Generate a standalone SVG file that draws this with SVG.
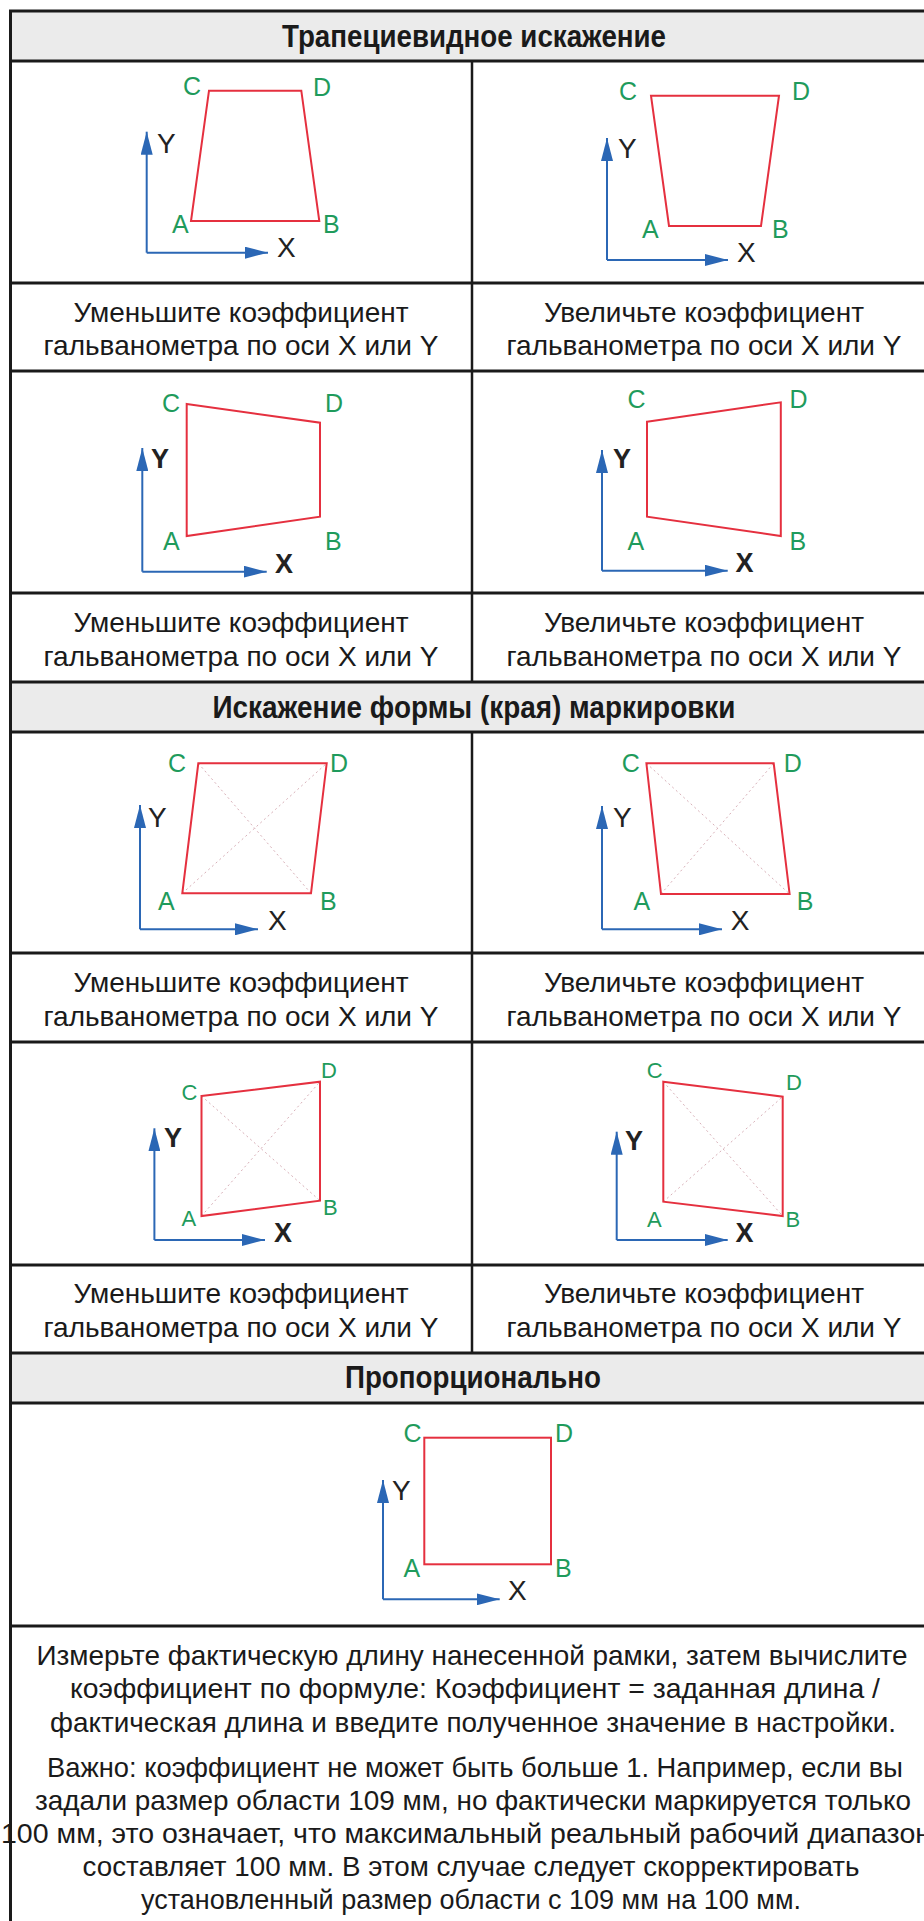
<svg xmlns="http://www.w3.org/2000/svg" width="924" height="1921" viewBox="0 0 924 1921">
<style>
.bd{stroke:#1a1a1a;stroke-width:3;fill:none}
.vd{stroke:#1a1a1a;stroke-width:2.5;fill:none}
.hdr{fill:#ebebeb}
.t{font-family:"Liberation Sans",Arial,sans-serif;font-size:28px;fill:#1a1a1a;text-anchor:middle}
.hb{font-weight:bold;font-size:31px}
.ax{stroke:#2b67b5;stroke-width:2;fill:none;marker-end:url(#arr)}
.q{stroke:#e5303f;stroke-width:2;fill:none;stroke-linejoin:miter}
.dg{stroke:#d8b0b8;stroke-width:1;stroke-dasharray:2 3;fill:none}
.lb{font-family:"Liberation Sans",Arial,sans-serif;font-size:25px;fill:#1f9b5c}
.lbs{font-size:22px}
.al{font-family:"Liberation Sans",Arial,sans-serif;font-size:28px;fill:#222}
.alb{font-weight:bold;font-size:27px}
</style>
<defs>
<marker id="arr" markerUnits="userSpaceOnUse" markerWidth="24" markerHeight="12" refX="23" refY="6" orient="auto">
<path d="M0,0 L23,6 L0,12 Z" fill="#2b67b5"/>
</marker>
</defs>
<rect x="0" y="0" width="924" height="1921" fill="#ffffff"/>

<g id="headers">
<rect class="hdr" x="10" y="11" width="930" height="50"/>
<rect class="hdr" x="10" y="682" width="930" height="50"/>
<rect class="hdr" x="10" y="1353" width="930" height="50"/>
<text class="t hb" x="474" y="47" textLength="384" lengthAdjust="spacingAndGlyphs">Трапециевидное искажение</text>
<text class="t hb" x="474" y="718" textLength="523" lengthAdjust="spacingAndGlyphs">Искажение формы (края) маркировки</text>
<text class="t hb" x="473" y="1388" textLength="256" lengthAdjust="spacingAndGlyphs">Пропорционально</text>
</g>

<g id="grid">
<rect class="bd" x="10.5" y="11" width="927" height="1920"/>
<path class="bd" d="M10 61H940M10 283H940M10 371H940M10 593H940M10 682H940M10 732H940M10 953H940M10 1042H940M10 1265H940M10 1353H940M10 1403H940M10 1626H940"/>
<path class="vd" d="M472 61V682M472 732V1353"/>
</g>

<g id="captions">
<text class="t" x="241" y="322">Уменьшите коэффициент</text>
<text class="t" x="241" y="355">гальванометра по оси X или Y</text>
<text class="t" x="704" y="322">Увеличьте коэффициент</text>
<text class="t" x="704" y="355">гальванометра по оси X или Y</text>
<text class="t" x="241" y="632">Уменьшите коэффициент</text>
<text class="t" x="241" y="666">гальванометра по оси X или Y</text>
<text class="t" x="704" y="632">Увеличьте коэффициент</text>
<text class="t" x="704" y="666">гальванометра по оси X или Y</text>
<text class="t" x="241" y="992">Уменьшите коэффициент</text>
<text class="t" x="241" y="1026">гальванометра по оси X или Y</text>
<text class="t" x="704" y="992">Увеличьте коэффициент</text>
<text class="t" x="704" y="1026">гальванометра по оси X или Y</text>
<text class="t" x="241" y="1303">Уменьшите коэффициент</text>
<text class="t" x="241" y="1337">гальванометра по оси X или Y</text>
<text class="t" x="704" y="1303">Увеличьте коэффициент</text>
<text class="t" x="704" y="1337">гальванометра по оси X или Y</text>
</g>

<g id="note">
<text class="t" x="472" y="1665" textLength="871" lengthAdjust="spacingAndGlyphs">Измерьте фактическую длину нанесенной рамки, затем вычислите</text>
<text class="t" x="475" y="1698" textLength="810" lengthAdjust="spacingAndGlyphs">коэффициент по формуле: Коэффициент = заданная длина /</text>
<text class="t" x="473" y="1732" textLength="846" lengthAdjust="spacingAndGlyphs">фактическая длина и введите полученное значение в настройки.</text>
<text class="t" x="475" y="1777" textLength="856" lengthAdjust="spacingAndGlyphs">Важно: коэффициент не может быть больше 1. Например, если вы</text>
<text class="t" x="473" y="1810" textLength="876" lengthAdjust="spacingAndGlyphs">задали размер области 109 мм, но фактически маркируется только</text>
<text class="t" x="466" y="1843" textLength="930" lengthAdjust="spacingAndGlyphs">100 мм, это означает, что максимальный реальный рабочий диапазон</text>
<text class="t" x="471" y="1876" textLength="777" lengthAdjust="spacingAndGlyphs">составляет 100 мм. В этом случае следует скорректировать</text>
<text class="t" x="471" y="1909" textLength="660" lengthAdjust="spacingAndGlyphs">установленный размер области с 109 мм на 100 мм.</text>
</g>

<g id="fig1">
<path class="ax" d="M146.7 252.7V131.7"/>
<path class="ax" d="M146.7 252.7H268"/>
<path class="q" d="M191 221H319.3L301.3 90.7H209Z"/>
<text class="lb" x="183" y="95">C</text><text class="lb" x="313" y="96">D</text>
<text class="lb" x="172" y="233">A</text><text class="lb" x="323" y="233">B</text>
<text class="al" x="277" y="257">X</text><text class="al" x="157" y="153">Y</text>
</g>

<g id="fig2">
<path class="ax" d="M607 260V138"/>
<path class="ax" d="M607 260H728"/>
<path class="q" d="M669 226H761L779 95.7H651Z"/>
<text class="lb" x="619" y="100">C</text><text class="lb" x="792" y="100">D</text>
<text class="lb" x="642" y="238">A</text><text class="lb" x="772" y="238">B</text>
<text class="al" x="737" y="262">X</text><text class="al" x="618" y="158">Y</text>
</g>

<g id="fig3">
<path class="ax" d="M142.3 571.7V448"/>
<path class="ax" d="M142.3 571.7H266.7"/>
<path class="q" d="M186.7 404L320 422.7V516.7L186.7 536Z"/>
<text class="lb" x="162" y="412">C</text><text class="lb" x="325" y="412">D</text>
<text class="lb" x="163" y="550">A</text><text class="lb" x="325" y="550">B</text>
<text class="al alb" x="275" y="573">X</text><text class="al alb" x="151" y="468">Y</text>
</g>

<g id="fig4">
<path class="ax" d="M602 570.7V450"/>
<path class="ax" d="M602 570.7H727.7"/>
<path class="q" d="M647 421.7L780.8 402.3V536L647 516.7Z"/>
<text class="lb" x="627.6" y="408">C</text><text class="lb" x="789.6" y="408">D</text>
<text class="lb" x="627.6" y="550">A</text><text class="lb" x="789.6" y="550">B</text>
<text class="al alb" x="735.4" y="572">X</text><text class="al alb" x="613" y="468">Y</text>
</g>

<g id="fig5">
<path class="ax" d="M140 929.3V805"/>
<path class="ax" d="M140 929.3H258"/>
<path class="dg" d="M182.3 893.3L326.7 763.3M198.3 763.3L311 893.3"/>
<path class="q" d="M182.3 893.3H311L326.7 763.3H198.3Z"/>
<text class="lb" x="168" y="772">C</text><text class="lb" x="330" y="772">D</text>
<text class="lb" x="158" y="910">A</text><text class="lb" x="320" y="910">B</text>
<text class="al" x="268" y="930">X</text><text class="al" x="148" y="827">Y</text>
</g>

<g id="fig6">
<path class="ax" d="M602 929.3V806"/>
<path class="ax" d="M602 929.3H722"/>
<path class="dg" d="M661 894L773.7 763.3M646.4 763.3L789.6 894"/>
<path class="q" d="M661 894H789.6L773.7 763.3H646.4Z"/>
<text class="lb" x="621.7" y="772">C</text><text class="lb" x="783.7" y="772">D</text>
<text class="lb" x="633.5" y="910">A</text><text class="lb" x="796.7" y="910">B</text>
<text class="al" x="730.7" y="930">X</text><text class="al" x="613" y="827">Y</text>
</g>

<g id="fig7">
<path class="ax" d="M154.4 1240V1128.3"/>
<path class="ax" d="M154.4 1240H265"/>
<path class="dg" d="M201.5 1216L320 1081.7M201.5 1096L320 1200.7"/>
<path class="q" d="M201.5 1096L320 1081.7V1200.7L201.5 1216Z"/>
<text class="lb lbs" x="181.5" y="1100">C</text><text class="lb lbs" x="321" y="1078">D</text>
<text class="lb lbs" x="181.5" y="1226">A</text><text class="lb lbs" x="323" y="1215">B</text>
<text class="al alb" x="274" y="1242">X</text><text class="al alb" x="164" y="1147">Y</text>
</g>

<g id="fig8">
<path class="ax" d="M616.7 1240V1131.7"/>
<path class="ax" d="M616.7 1240H727.7"/>
<path class="dg" d="M663.3 1201.7L782.7 1096.7M663.3 1081.7L782.7 1216"/>
<path class="q" d="M663.3 1081.7L782.7 1096.7V1216L663.3 1201.7Z"/>
<text class="lb lbs" x="646.7" y="1078">C</text><text class="lb lbs" x="786" y="1090">D</text>
<text class="lb lbs" x="647" y="1227">A</text><text class="lb lbs" x="785.5" y="1227">B</text>
<text class="al alb" x="735.4" y="1242">X</text><text class="al alb" x="625" y="1150">Y</text>
</g>

<g id="fig9">
<path class="ax" d="M383 1599.3V1480"/>
<path class="ax" d="M383 1599.3H499.7"/>
<rect class="q" x="424.3" y="1437.7" width="126.7" height="126.6"/>
<text class="lb" x="403.6" y="1442">C</text><text class="lb" x="555" y="1442">D</text>
<text class="lb" x="403.6" y="1577">A</text><text class="lb" x="555" y="1577">B</text>
<text class="al" x="508" y="1600">X</text><text class="al" x="392" y="1500">Y</text>
</g>
</svg>
